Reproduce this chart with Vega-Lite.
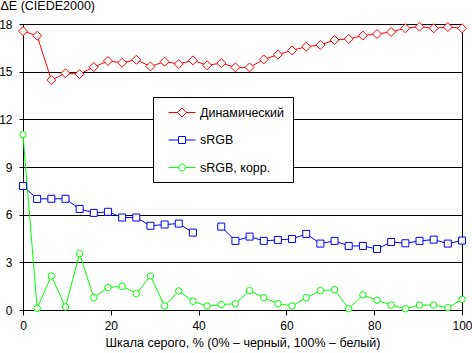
{
  "$schema": "https://vega.github.io/schema/vega-lite/v6.json",
  "width": 439,
  "height": 286,
  "autosize": {"type": "none"},
  "padding": {"left": 23, "top": 24, "right": 10, "bottom": 43},
  "background": "white",
  "config": {
    "font": "Liberation Sans",
    "view": {"stroke": "black", "strokeWidth": 1},
    "axis": {
      "labelFont": "Liberation Sans", "titleFont": "Liberation Sans",
      "labelColor": "black", "titleColor": "black", "domainColor": "black",
      "tickColor": "black", "gridColor": "black", "gridOpacity": 1, "gridWidth": 1,
      "domainWidth": 1, "tickWidth": 1,
      "labelFontSize": 12, "titleFontSize": 12.5, "titleFontWeight": "normal"
    }
  },
  "data": {"values": [
    {"x": 0, "s": "Динамический", "y": 17.55},
    {"x": 3.23, "s": "Динамический", "y": 17.26},
    {"x": 6.45, "s": "Динамический", "y": 14.47},
    {"x": 9.68, "s": "Динамический", "y": 14.9},
    {"x": 12.9, "s": "Динамический", "y": 14.85},
    {"x": 16.13, "s": "Динамический", "y": 15.29},
    {"x": 19.35, "s": "Динамический", "y": 15.67},
    {"x": 22.58, "s": "Динамический", "y": 15.56},
    {"x": 25.81, "s": "Динамический", "y": 15.75},
    {"x": 29.03, "s": "Динамический", "y": 15.33},
    {"x": 32.26, "s": "Динамический", "y": 15.63},
    {"x": 35.48, "s": "Динамический", "y": 15.48},
    {"x": 38.71, "s": "Динамический", "y": 15.71},
    {"x": 41.94, "s": "Динамический", "y": 15.4},
    {"x": 45.16, "s": "Динамический", "y": 15.54},
    {"x": 48.39, "s": "Динамический", "y": 15.27},
    {"x": 51.61, "s": "Динамический", "y": 15.27},
    {"x": 54.84, "s": "Динамический", "y": 15.77},
    {"x": 58.06, "s": "Динамический", "y": 16.07},
    {"x": 61.29, "s": "Динамический", "y": 16.34},
    {"x": 64.52, "s": "Динамический", "y": 16.57},
    {"x": 67.74, "s": "Динамический", "y": 16.68},
    {"x": 70.97, "s": "Динамический", "y": 16.99},
    {"x": 74.19, "s": "Динамический", "y": 17.06},
    {"x": 77.42, "s": "Динамический", "y": 17.27},
    {"x": 80.65, "s": "Динамический", "y": 17.37},
    {"x": 83.87, "s": "Динамический", "y": 17.5},
    {"x": 87.1, "s": "Динамический", "y": 17.73},
    {"x": 90.32, "s": "Динамический", "y": 17.83},
    {"x": 93.55, "s": "Динамический", "y": 17.73},
    {"x": 96.77, "s": "Динамический", "y": 17.81},
    {"x": 100, "s": "Динамический", "y": 17.73},
    {"x": 0, "s": "sRGB", "y": 7.81},
    {"x": 3.23, "s": "sRGB", "y": 6.99},
    {"x": 6.45, "s": "sRGB", "y": 7.0},
    {"x": 9.68, "s": "sRGB", "y": 7.0},
    {"x": 12.9, "s": "sRGB", "y": 6.36},
    {"x": 16.13, "s": "sRGB", "y": 6.11},
    {"x": 19.35, "s": "sRGB", "y": 6.18},
    {"x": 22.58, "s": "sRGB", "y": 5.82},
    {"x": 25.81, "s": "sRGB", "y": 5.82},
    {"x": 29.03, "s": "sRGB", "y": 5.3},
    {"x": 32.26, "s": "sRGB", "y": 5.38},
    {"x": 35.48, "s": "sRGB", "y": 5.44},
    {"x": 38.71, "s": "sRGB", "y": 4.87},
    {"x": 41.94, "s": "sRGB", "y": null},
    {"x": 45.16, "s": "sRGB", "y": 5.25},
    {"x": 48.39, "s": "sRGB", "y": 4.35},
    {"x": 51.61, "s": "sRGB", "y": 4.62},
    {"x": 54.84, "s": "sRGB", "y": 4.35},
    {"x": 58.06, "s": "sRGB", "y": 4.41},
    {"x": 61.29, "s": "sRGB", "y": 4.47},
    {"x": 64.52, "s": "sRGB", "y": 4.79},
    {"x": 67.74, "s": "sRGB", "y": 4.18},
    {"x": 70.97, "s": "sRGB", "y": 4.35},
    {"x": 74.19, "s": "sRGB", "y": 4.03},
    {"x": 77.42, "s": "sRGB", "y": 4.03},
    {"x": 80.65, "s": "sRGB", "y": 3.84},
    {"x": 83.87, "s": "sRGB", "y": 4.28},
    {"x": 87.1, "s": "sRGB", "y": 4.2},
    {"x": 90.32, "s": "sRGB", "y": 4.35},
    {"x": 93.55, "s": "sRGB", "y": 4.43},
    {"x": 96.77, "s": "sRGB", "y": 4.18},
    {"x": 100, "s": "sRGB", "y": 4.37},
    {"x": 0, "s": "sRGB, корр.", "y": 11.03},
    {"x": 3.23, "s": "sRGB, корр.", "y": 0.1},
    {"x": 6.45, "s": "sRGB, корр.", "y": 2.14},
    {"x": 9.68, "s": "sRGB, корр.", "y": 0.19},
    {"x": 12.9, "s": "sRGB, корр.", "y": 3.55},
    {"x": 16.13, "s": "sRGB, корр.", "y": 0.78},
    {"x": 19.35, "s": "sRGB, корр.", "y": 1.41},
    {"x": 22.58, "s": "sRGB, корр.", "y": 1.49},
    {"x": 25.81, "s": "sRGB, корр.", "y": 1.03},
    {"x": 29.03, "s": "sRGB, корр.", "y": 2.14},
    {"x": 32.26, "s": "sRGB, корр.", "y": 0.25},
    {"x": 35.48, "s": "sRGB, корр.", "y": 1.2},
    {"x": 38.71, "s": "sRGB, корр.", "y": 0.55},
    {"x": 41.94, "s": "sRGB, корр.", "y": 0.25},
    {"x": 45.16, "s": "sRGB, корр.", "y": 0.34},
    {"x": 48.39, "s": "sRGB, корр.", "y": 0.4},
    {"x": 51.61, "s": "sRGB, корр.", "y": 1.22},
    {"x": 54.84, "s": "sRGB, корр.", "y": 0.78},
    {"x": 58.06, "s": "sRGB, корр.", "y": 0.4},
    {"x": 61.29, "s": "sRGB, корр.", "y": 0.25},
    {"x": 64.52, "s": "sRGB, корр.", "y": 0.78},
    {"x": 67.74, "s": "sRGB, корр.", "y": 1.22},
    {"x": 70.97, "s": "sRGB, корр.", "y": 1.28},
    {"x": 74.19, "s": "sRGB, корр.", "y": 0.08},
    {"x": 77.42, "s": "sRGB, корр.", "y": 0.95},
    {"x": 80.65, "s": "sRGB, корр.", "y": 0.61},
    {"x": 83.87, "s": "sRGB, корр.", "y": 0.31},
    {"x": 87.1, "s": "sRGB, корр.", "y": 0.08},
    {"x": 90.32, "s": "sRGB, корр.", "y": 0.31},
    {"x": 93.55, "s": "sRGB, корр.", "y": 0.31},
    {"x": 96.77, "s": "sRGB, корр.", "y": 0.15},
    {"x": 100, "s": "sRGB, корр.", "y": 0.67}
  ]},
  "encoding": {
    "x": {
      "field": "x", "type": "quantitative",
      "scale": {"domain": [0, 100], "nice": false, "zero": false},
      "axis": {
        "values": [0, 20, 40, 60, 80, 100], "grid": false, "tickSize": 5,
        "labelPadding": 5, "labelFlush": false,
        "title": "Шкала серого, % (0% – черный, 100% – белый)", "titlePadding": 5.5
      }
    },
    "y": {
      "field": "y", "type": "quantitative",
      "scale": {"domain": [0, 18], "nice": false, "zero": false},
      "axis": {
        "values": [0, 3, 6, 9, 12, 15, 18], "grid": true, "tickSize": 4,
        "labelPadding": 7, "labelFlush": false,
        "title": "ΔE (CIEDE2000)", "titleAngle": 0, "titleAlign": "left",
        "titleBaseline": "alphabetic", "titleX": -23, "titleY": -14.5
      }
    }
  },
  "layer": [
    {
      "mark": {"type": "line", "strokeWidth": 1, "invalid": "break-paths-filter-domains"},
      "encoding": {
        "stroke": {
          "field": "s", "type": "nominal",
          "scale": {"domain": ["Динамический", "sRGB", "sRGB, корр."], "range": ["#ff0000", "#0000ff", "#00ff00"]}
        }
      }
    },
    {
      "transform": [{"filter": "datum.s === 'Динамический'"}],
      "mark": {"type": "point", "shape": "diamond", "filled": true, "fill": "white", "size": 81, "strokeWidth": 1, "opacity": 1},
      "encoding": {
        "stroke": {"field": "s", "type": "nominal"}
      }
    },
    {
      "transform": [{"filter": "datum.s === 'sRGB'"}],
      "mark": {"type": "point", "shape": "square", "filled": true, "fill": "white", "size": 49, "strokeWidth": 1, "opacity": 1},
      "encoding": {
        "stroke": {"field": "s", "type": "nominal"}
      }
    },
    {
      "transform": [{"filter": "datum.s === 'sRGB, корр.'"}],
      "mark": {"type": "point", "shape": "circle", "filled": true, "fill": "white", "size": 42, "strokeWidth": 1, "opacity": 1},
      "encoding": {
        "stroke": {"field": "s", "type": "nominal"}
      }
    },
    {
      "transform": [{"filter": "false"}],
      "mark": {"type": "point", "filled": true, "fill": "white", "strokeWidth": 1, "opacity": 1},
      "encoding": {
        "stroke": {
          "field": "s", "type": "nominal",
          "legend": {
            "orient": "none", "legendX": 130, "legendY": 73, "direction": "vertical",
            "title": null, "padding": 8, "fillColor": "white", "strokeColor": "black",
            "symbolSize": 196, "symbolStrokeWidth": 1, "symbolFillColor": "white",
            "labelOffset": 24, "rowPadding": 13.5, "labelFontSize": 12.5,
            "labelFont": "Liberation Sans", "labelColor": "black", "cornerRadius": 0
          }
        },
        "shape": {
          "field": "s", "type": "nominal",
          "scale": {
            "domain": ["Динамический", "sRGB", "sRGB, корр."],
            "range": [
              "M0,0L1.29,0M2.57,0L3.86,0M1.93,-0.64L2.57,0L1.93,0.64L1.29,0Z",
              "M0,0L1.43,0M2.43,0L3.86,0M1.43,-0.5L2.43,-0.5L2.43,0.5L1.43,0.5Z",
              "M0,0L1.43,0M2.43,0L3.86,0M1.43,0A0.5,0.5 0 1,0 2.43,0A0.5,0.5 0 1,0 1.43,0Z"
            ]
          },
          "legend": {
            "orient": "none", "legendX": 130, "legendY": 73, "direction": "vertical",
            "title": null, "padding": 8, "fillColor": "white", "strokeColor": "black",
            "symbolSize": 196, "symbolStrokeWidth": 1, "symbolFillColor": "white",
            "labelOffset": 24, "rowPadding": 13.5, "labelFontSize": 12.5,
            "labelFont": "Liberation Sans", "labelColor": "black", "cornerRadius": 0
          }
        }
      }
    }
  ]
}
